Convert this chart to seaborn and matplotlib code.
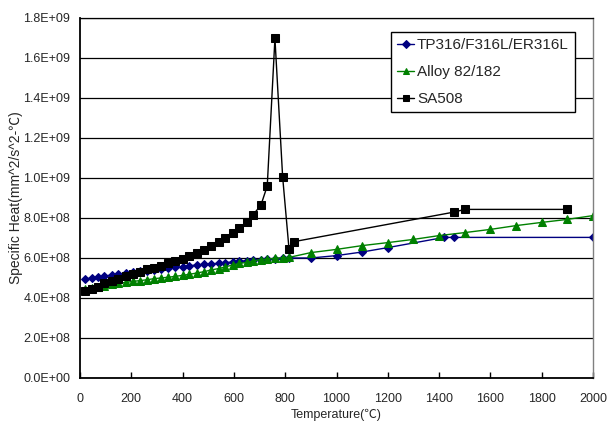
import matplotlib
matplotlib.use("Agg")
import matplotlib.pyplot as plt
import matplotlib.ticker as mticker
import seaborn as sns
import pandas as pd

# ---- data ----
low_temps = [20, 45, 70, 95, 125, 150, 180, 205, 235, 260, 290, 315, 345, 370, 400,
             425, 455, 485, 510, 540, 565, 595, 620, 650, 675, 705, 730, 760, 790, 815]

tp316_temps = low_temps + [900, 1000, 1100, 1200, 1420, 1460, 2000]
tp316_vals = [495, 500, 505, 510, 515, 520, 524, 528, 533, 537, 541, 545, 550, 554, 557,
              561, 565, 568, 571, 573, 577, 580, 583, 587, 590, 592, 595, 597, 598, 600,
              600, 612, 630, 652, 703, 703, 703]

alloy_temps = low_temps + [900, 1000, 1100, 1200, 1300, 1400, 1500, 1600, 1700, 1800, 1900, 2000]
alloy_vals = [447, 452, 457, 462, 468, 473, 478, 483, 487, 491, 497, 500, 504, 508, 513,
              518, 525, 532, 540, 547, 555, 565, 573, 578, 585, 592, 595, 598, 602, 603,
              627, 643, 662, 677, 693, 712, 727, 743, 762, 778, 793, 812]

sa508_temps = low_temps[:29] + [815, 835, 1460, 1500, 1900]
sa508_vals = [436, 443, 456, 473, 485, 496, 510, 520, 530, 543, 551, 561, 573, 583, 596,
              610, 623, 640, 660, 678, 702, 723, 750, 778, 817, 863, 960, 1698, 1006,
              643, 682, 830, 843, 843]

series_names = ["TP316/F316L/ER316L", "Alloy 82/182", "SA508"]
x_ticks = list(range(0, 2001, 200))
y_ticks = [i * 2e8 for i in range(10)]

# ---- style ----
sns.set_style("white")
plt.rcParams['font.family'] = ['Liberation Sans', 'Noto Sans CJK SC', 'DejaVu Sans']

fig = plt.figure(figsize=(6.09, 4.25), dpi=100)
ax = fig.add_axes([80 / 609, 1 - 378 / 425, 513 / 609, 360 / 425])

specs = [
    (tp316_temps, tp316_vals, "#000080", "D", 4.5),
    (alloy_temps, alloy_vals, "#008000", "^", 5.8),
    (sa508_temps, sa508_vals, "#000000", "s", 5.3),
]
for name, (t, v, c, m, ms) in zip(series_names, specs):
    df = pd.DataFrame({"T": t, "cp": [val * 1e6 for val in v]})
    sns.lineplot(data=df, x="T", y="cp", ax=ax, color=c, marker=m, markersize=ms,
                 markeredgecolor=c, markerfacecolor=c, linewidth=1.0,
                 estimator=None, sort=False, label=name)

ax.set_xlim(0, 2000)
ax.set_ylim(0, 1.8e9)
ax.set_xticks(x_ticks)
ax.set_yticks(y_ticks)
ax.yaxis.set_major_formatter(mticker.FuncFormatter(lambda v, p: f"{v:.1E}"))
ax.tick_params(axis='x', direction='in', length=4, width=1, color='black',
               labelsize=9, pad=11, bottom=True)
ax.tick_params(axis='y', length=0, labelsize=9, pad=7, left=True)

ax.grid(axis='y', color='black', linewidth=0.9)
ax.grid(axis='x', visible=False)
ax.set_axisbelow(True)

for s in ['left', 'bottom']:
    ax.spines[s].set_color('black')
    ax.spines[s].set_linewidth(1.3)
ax.spines['top'].set_color('black')
ax.spines['top'].set_linewidth(0.9)
ax.spines['right'].set_color('#808080')
ax.spines['right'].set_linewidth(1.0)

ax.set_xlabel("Temperature(℃)", fontsize=9)
ax.set_ylabel("Specific Heat(mm^2/s^2-℃)", fontsize=10)
ax.xaxis.set_label_coords(0.5, (378 - 409) / 360)
ax.yaxis.set_label_coords((23 - 80) / 513, 0.5)

leg = ax.legend(loc='upper right', bbox_to_anchor=(0.965, 0.961), borderaxespad=0,
                fontsize=11, frameon=True, fancybox=False, framealpha=1,
                edgecolor='black', handlelength=1.1, handletextpad=0.2,
                labelspacing=0.85, borderpad=0.4, markerscale=0.8)
leg.get_frame().set_linewidth(1.0)

fig.savefig("out.png", dpi=100)
